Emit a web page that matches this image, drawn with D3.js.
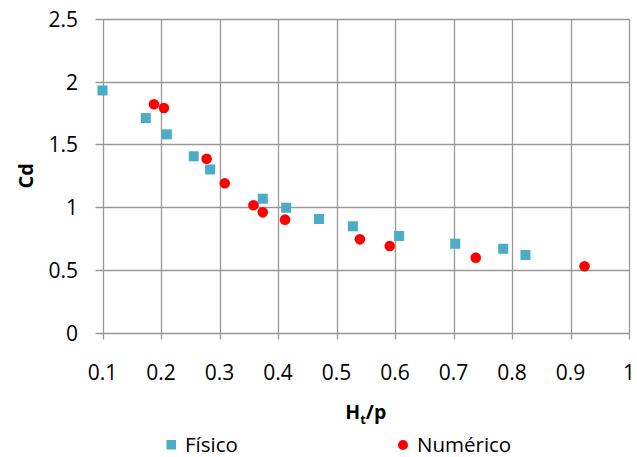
<!DOCTYPE html>
<html>
<head>
<meta charset="utf-8">
<script src="https://cdn.jsdelivr.net/npm/d3@7"></script>
<style>
  body { margin: 0; background: #fff; }
  svg { display: block; font-family: "Open Sans", sans-serif; }
</style>
</head>
<body>
<div id="chart"></div>
<script>
// datos
const fisicoX = [0.1, 0.174, 0.21, 0.256, 0.284, 0.374, 0.414, 0.47, 0.528, 0.607, 0.703, 0.785, 0.823];
const fisicoY = [1.93, 1.71, 1.58, 1.405, 1.30, 1.067, 0.995, 0.905, 0.847, 0.77, 0.708, 0.668, 0.618];
const numericoX = [0.188, 0.205, 0.278, 0.309, 0.358, 0.374, 0.412, 0.540, 0.591, 0.738, 0.924];
const numericoY = [1.82, 1.79, 1.386, 1.19, 1.015, 0.958, 0.90, 0.743, 0.690, 0.597, 0.528];
const xTicks = [0.1, 0.2, 0.3, 0.4, 0.5, 0.6, 0.7, 0.8, 0.9, 1];
const yTicks = [0, 0.5, 1, 1.5, 2, 2.5];

const width = 637, height = 457;
const mLeft = 102.5, mRight = 629, mTop = 19, mBottom = 332.5;
const gridColor = "#999";

const svg = d3.select("#chart").append("svg")
  .attr("width", width).attr("height", height);

const x = d3.scaleLinear().domain([0.1, 1]).range([mLeft, mRight]);
const y = d3.scaleLinear().domain([0, 2.5]).range([mBottom, mTop]);

// rejilla
svg.append("g").selectAll("line").data(yTicks).enter().append("line")
  .attr("x1", mLeft - 7).attr("x2", mRight)
  .attr("y1", d => Math.round(y(d)) + 0.5).attr("y2", d => Math.round(y(d)) + 0.5)
  .attr("stroke", gridColor).attr("stroke-width", 1.3);
svg.append("g").selectAll("line").data(xTicks).enter().append("line")
  .attr("x1", d => Math.round(x(d)) + 0.5).attr("x2", d => Math.round(x(d)) + 0.5)
  .attr("y1", mTop).attr("y2", mBottom + 7)
  .attr("stroke", gridColor).attr("stroke-width", 1.3);

// etiquetas de los ejes
svg.append("g").selectAll("text").data(xTicks).enter().append("text")
  .attr("x", d => x(d)).attr("y", 380)
  .attr("text-anchor", "middle").attr("font-size", 21).attr("fill", "#000")
  .text(d => d);
svg.append("g").selectAll("text").data(yTicks).enter().append("text")
  .attr("x", 78).attr("y", d => y(d) + 8)
  .attr("text-anchor", "end").attr("font-size", 21).attr("fill", "#000")
  .text(d => d);

// títulos
svg.append("text")
  .attr("transform", `translate(33,${(mTop + mBottom) / 2}) rotate(-90)`)
  .attr("text-anchor", "middle").attr("font-size", 20).attr("font-weight", "bold")
  .text("Cd");
const tt = svg.append("text")
  .attr("x", (mLeft + mRight) / 2).attr("y", 419)
  .attr("text-anchor", "middle").attr("font-size", 19.5).attr("font-weight", "bold");
tt.append("tspan").text("H");
tt.append("tspan").attr("font-size", 13).attr("dy", 5).text("t");
tt.append("tspan").attr("dy", -5).text("/p");

// puntos
const s = 10;
svg.append("g").selectAll("rect").data(fisicoX).enter().append("rect")
  .attr("x", (d, i) => x(d) - s / 2).attr("y", (d, i) => y(fisicoY[i]) - s / 2)
  .attr("width", s).attr("height", s).attr("fill", "#4bacc6");
svg.append("g").selectAll("circle").data(numericoX).enter().append("circle")
  .attr("cx", d => x(d)).attr("cy", (d, i) => y(numericoY[i]))
  .attr("r", 5.3).attr("fill", "#ff0000");

// leyenda
svg.append("rect").attr("x", 166.5).attr("y", 440).attr("width", 9.5).attr("height", 9.5).attr("fill", "#4bacc6");
svg.append("text").attr("x", 185).attr("y", 451.5).attr("font-size", 20.5).text("Físico");
svg.append("circle").attr("cx", 403).attr("cy", 445).attr("r", 5).attr("fill", "#ff0000");
svg.append("text").attr("x", 417).attr("y", 451.5).attr("font-size", 20.5).text("Numérico");
</script>
</body>
</html>
